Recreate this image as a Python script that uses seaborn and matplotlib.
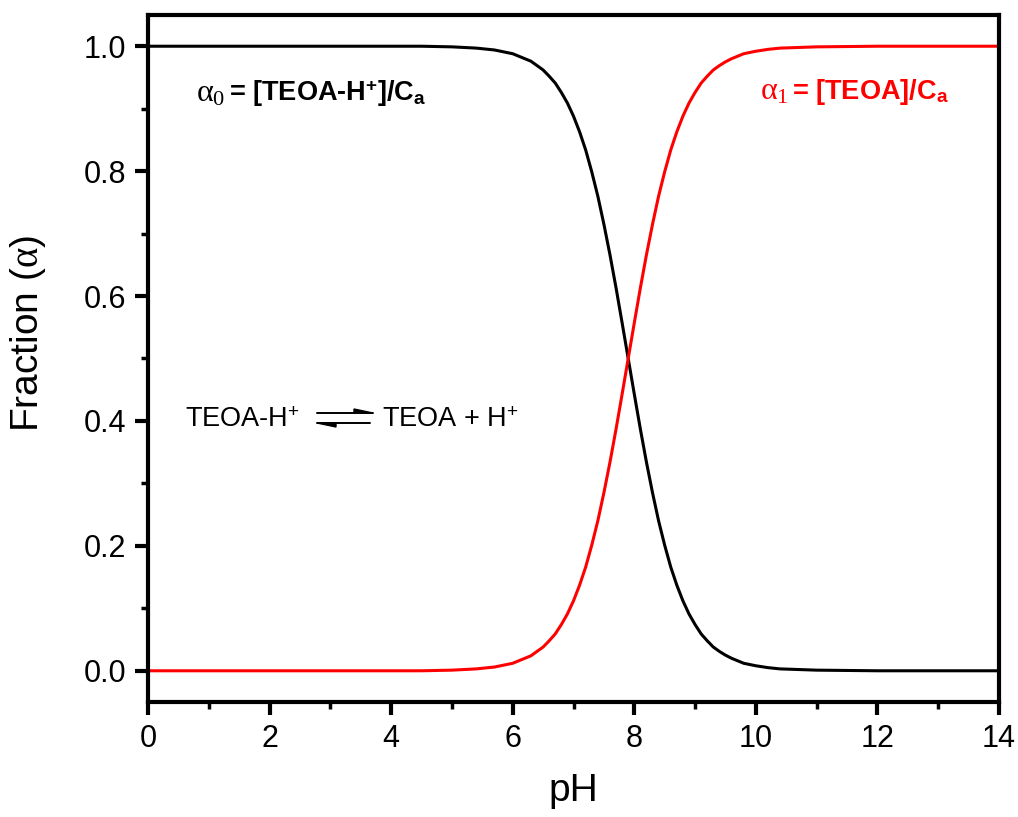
import matplotlib
matplotlib.use("Agg")
import matplotlib.pyplot as plt
from matplotlib.ticker import MultipleLocator, FormatStrFormatter
from matplotlib.lines import Line2D
from matplotlib.patches import Polygon
import seaborn as sns

# Values
ph = [0, 1, 2, 3, 4, 4.5, 5, 5.2, 5.4,
      5.5, 5.6, 5.7, 5.8, 5.9, 6.0, 6.1, 6.2, 6.3, 6.4, 6.5, 6.6, 6.7, 6.8,
      6.9, 7.0, 7.1, 7.2, 7.3, 7.4, 7.5, 7.6, 7.7, 7.8, 7.9, 8.0, 8.1, 8.2,
      8.3, 8.4, 8.5, 8.6, 8.7, 8.8, 8.9, 9.0, 9.1, 9.2, 9.3, 9.4, 9.5, 9.6,
      9.7, 9.8, 9.9, 10.0,
      10.2, 10.4, 10.7, 11, 12, 13, 14]
alpha0 = [1.0, 1.0, 1.0, 1.0, 1.0, 1.0, 0.999, 0.998, 0.997,
          0.996, 0.995, 0.994, 0.992, 0.990, 0.988, 0.984, 0.980, 0.976,
          0.969, 0.962, 0.952, 0.941, 0.926, 0.909, 0.888, 0.863, 0.834,
          0.799, 0.760, 0.715, 0.666, 0.613, 0.557, 0.500, 0.443, 0.387,
          0.334, 0.285, 0.240, 0.201, 0.166, 0.137, 0.112, 0.091, 0.074,
          0.059, 0.048, 0.038, 0.031, 0.025, 0.020, 0.016, 0.012, 0.010,
          0.008,
          0.005, 0.003, 0.002, 0.001, 0.0, 0.0, 0.0]
alpha1 = [0.0, 0.0, 0.0, 0.0, 0.0, 0.0, 0.001, 0.002, 0.003,
          0.004, 0.005, 0.006, 0.008, 0.010, 0.012, 0.016, 0.020, 0.024,
          0.031, 0.038, 0.048, 0.059, 0.074, 0.091, 0.112, 0.137, 0.166,
          0.201, 0.240, 0.285, 0.334, 0.387, 0.443, 0.500, 0.557, 0.613,
          0.666, 0.715, 0.760, 0.799, 0.834, 0.863, 0.888, 0.909, 0.926,
          0.941, 0.952, 0.962, 0.969, 0.975, 0.980, 0.984, 0.988, 0.990,
          0.992,
          0.995, 0.997, 0.998, 0.999, 1.0, 1.0, 1.0]

sns.set_style("ticks")
plt.rcParams["font.family"] = ["Liberation Sans", "DejaVu Sans"]
plt.rcParams["mathtext.fontset"] = "custom"
plt.rcParams["mathtext.rm"] = "Liberation Serif"
plt.rcParams["mathtext.it"] = "Liberation Serif"
plt.rcParams["mathtext.bf"] = "Liberation Sans:bold"
plt.rcParams["mathtext.sf"] = "Liberation Sans"
for k in ["text.color", "axes.labelcolor", "xtick.color", "ytick.color",
          "axes.edgecolor"]:
    plt.rcParams[k] = "black"

RED = "#ff0000"
W, H = 1018, 817
fig = plt.figure(figsize=(W / 100, H / 100), dpi=100)
ax = fig.add_axes([148 / W, 1 - 702 / H, (999 - 148) / W, (702 - 15) / H])

sns.lineplot(x=ph, y=alpha0, ax=ax, color="black", linewidth=2.2)
sns.lineplot(x=ph, y=alpha1, ax=ax, color=RED, linewidth=2.2)

ax.set_xlim(0, 14)
ax.set_ylim(-0.05, 1.05)
ax.xaxis.set_major_locator(MultipleLocator(2))
ax.xaxis.set_minor_locator(MultipleLocator(1))
ax.yaxis.set_major_locator(MultipleLocator(0.2))
ax.yaxis.set_minor_locator(MultipleLocator(0.1))
ax.yaxis.set_major_formatter(FormatStrFormatter("%.1f"))

for s in ax.spines.values():
    s.set_linewidth(3.0)
ax.tick_params(which="major", length=9.5, width=3.0, labelsize=22, pad=6,
               direction="out")
ax.tick_params(which="minor", length=5, width=2.5, direction="out")
ax.tick_params(top=False, right=False, which="both")

ax.set_xlabel("pH", fontsize=28, labelpad=14)
ax.set_ylabel(r"Fraction ($\alpha$)", fontsize=28)
ax.yaxis.set_label_coords(-0.118, 0.537)

# species labels
ax.text(0.79, 0.912, r"$\alpha_0$", fontsize=23, color="black", va="baseline")
ax.text(1.33, 0.912, r"= [TEOA-H$^{\mathbf{+}}$]/C$_{\mathbf{a}}$",
        fontsize=19.5, fontweight="bold", color="black", va="baseline")
ax.text(10.07, 0.915, r"$\alpha_1$", fontsize=23, color=RED, va="baseline")
ax.text(10.6, 0.915, r"= [TEOA]/C$_{\mathbf{a}}$",
        fontsize=19.5, fontweight="bold", color=RED, va="baseline")

ax.text(0.61, 0.391, r"TEOA-H$^{\mathsf{+}}$", fontsize=19.5, va="baseline")
ax.text(3.855, 0.391, r"TEOA + H$^{\mathsf{+}}$", fontsize=19.5, va="baseline")


# equilibrium arrows (pixel positions -> figure fraction)
def fx(x, y):
    return (x / W, 1 - y / H)


for (x0, y0), (x1, y1) in [((317, 413), (373, 413)), ((317, 423), (370, 423))]:
    p0, p1 = fx(x0, y0), fx(x1, y1)
    fig.add_artist(Line2D([p0[0], p1[0]], [p0[1], p1[1]], color="black",
                          linewidth=1.4, transform=fig.transFigure))
fig.add_artist(Polygon([fx(373, 413), fx(354, 409), fx(354, 413)], closed=True,
                       color="black", transform=fig.transFigure))
fig.add_artist(Polygon([fx(317, 423), fx(336, 427), fx(336, 423)], closed=True,
                       color="black", transform=fig.transFigure))

fig.savefig("out.png", dpi=100)
